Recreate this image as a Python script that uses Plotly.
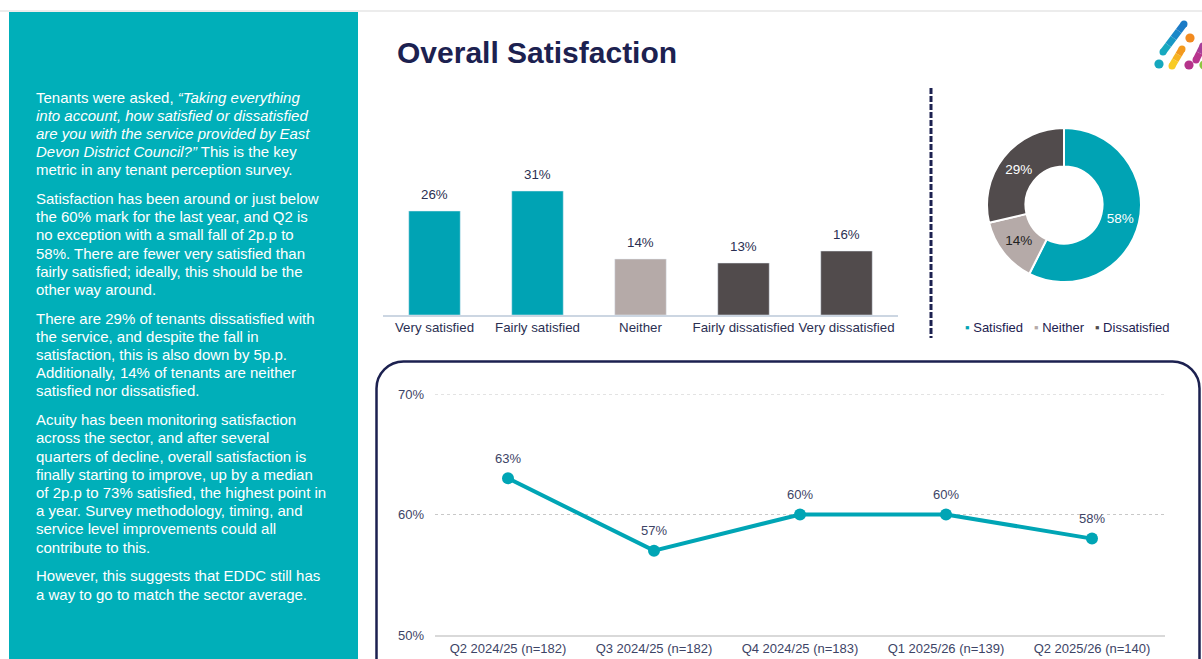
import plotly.graph_objects as go

W, H = 1202, 659
FONT = "Liberation Sans, Arial, sans-serif"
NAVY = "#1C2150"
LABEL = "#2B2F52"
TEAL_PANEL = "#00AFB9"
TEAL = "#00A3B4"
GREY = "#B5AAA8"
DARK = "#514B4C"

# ---- data ----
bar_categories = ["Very satisfied", "Fairly satisfied", "Neither", "Fairly dissatisfied", "Very dissatisfied"]
bar_values = [26, 31, 14, 13, 16]
bar_colors = [TEAL, TEAL, GREY, DARK, DARK]

donut_labels = ["Satisfied", "Neither", "Dissatisfied"]
donut_values = [58, 14, 29]
donut_colors = [TEAL, GREY, DARK]
donut_text_colors = ["white", "#222222", "white"]

trend_periods = ["Q2 2024/25 (n=182)", "Q3 2024/25 (n=182)", "Q4 2024/25 (n=183)",
                 "Q1 2025/26 (n=139)", "Q2 2025/26 (n=140)"]
trend_values = [63, 57, 60, 60, 58]
trend_ticks = [50, 60, 70]
trend_tick_labels = ["50%", "60%", "70%"]

paragraphs = [
    ["Tenants were asked, <i>“Taking everything</i>",
     "<i>into account, how satisfied or dissatisfied</i>",
     "<i>are you with the service provided by East</i>",
     "<i>Devon District Council?”</i> This is the key",
     "metric in any tenant perception survey."],
    ["Satisfaction has been around or just below",
     "the 60% mark for the last year, and Q2 is",
     "no exception with a small fall of 2p.p to",
     "58%. There are fewer very satisfied than",
     "fairly satisfied; ideally, this should be the",
     "other way around."],
    ["There are 29% of tenants dissatisfied with",
     "the service, and despite the fall in",
     "satisfaction, this is also down by 5p.p.",
     "Additionally, 14% of tenants are neither",
     "satisfied nor dissatisfied."],
    ["Acuity has been monitoring satisfaction",
     "across the sector, and after several",
     "quarters of decline, overall satisfaction is",
     "finally starting to improve, up by a median",
     "of 2p.p to 73% satisfied, the highest point in",
     "a year. Survey methodology, timing, and",
     "service level improvements could all",
     "contribute to this."],
    ["However, this suggests that EDDC still has",
     "a way to go to match the sector average."],
]


def px(x):
    return x / W


def py(y):
    return 1 - y / H


fig = go.Figure()

# ---- bar chart ----
fig.add_trace(go.Bar(
    x=bar_categories, y=bar_values, marker_color=bar_colors, width=0.5,
    xaxis="x", yaxis="y", showlegend=False, hoverinfo="skip"))

# ---- line chart ----
fig.add_trace(go.Scatter(
    x=trend_periods, y=trend_values, mode="lines+markers",
    line=dict(color="#00A5B5", width=4), marker=dict(size=12, color="#00A5B5"),
    xaxis="x2", yaxis="y2", showlegend=False, hoverinfo="skip", cliponaxis=False))

# ---- donut ----
fig.add_trace(go.Pie(
    labels=donut_labels, values=donut_values, hole=0.5, sort=False,
    direction="clockwise", rotation=0,
    marker=dict(colors=donut_colors, line=dict(color="white", width=2)),
    text=[f"{v}%" for v in donut_values], textinfo="text", textposition="inside",
    insidetextorientation="horizontal",
    textfont=dict(size=13.5, color=donut_text_colors, family=FONT),
    domain=dict(x=[px(1064 - 77), px(1064 + 77)], y=[py(282), py(128)]),
    showlegend=False, hoverinfo="skip"))

annotations = []
# bar value labels
for c, v in zip(bar_categories, bar_values):
    annotations.append(dict(x=c, y=v, xref="x", yref="y", text=f"{v}%", showarrow=False,
                            yshift=16, font=dict(size=13.3, color=LABEL, family=FONT)))
# line value labels
for c, v in zip(trend_periods, trend_values):
    annotations.append(dict(x=c, y=v, xref="x2", yref="y2", text=f"{v}%", showarrow=False,
                            yshift=20, font=dict(size=13, color="#3D4466", family=FONT)))

# title
annotations.append(dict(x=px(395), y=py(52), xref="paper", yref="paper", xanchor="left",
                        yanchor="middle", text="<b>Overall Satisfaction</b>", showarrow=False,
                        font=dict(size=30, color=NAVY, family=FONT)))

# donut legend
legend_text = "   ".join(
    f"<span style='color:{col}'>▪</span> {lab}" for lab, col in zip(donut_labels, donut_colors))
annotations.append(dict(x=px(1067), y=py(327), xref="paper", yref="paper", xanchor="center",
                        yanchor="middle", text=legend_text, showarrow=False,
                        font=dict(size=13, color=NAVY, family=FONT)))

# panel text
y = 97.0
step = 18.2
for para in paragraphs:
    for line in para:
        annotations.append(dict(x=px(34), y=py(y), xref="paper", yref="paper", xanchor="left",
                                yanchor="middle", text=line, showarrow=False,
                                font=dict(size=15, color="white", family=FONT)))
        y += step
    y += 10.5

shapes = []
# top line
shapes.append(dict(type="line", xref="paper", yref="paper", x0=0, x1=1, y0=py(11), y1=py(11),
                   line=dict(color="#D9D9D9", width=1)))
# teal panel
shapes.append(dict(type="rect", xref="paper", yref="paper", x0=px(9), x1=px(358),
                   y0=py(H + 2), y1=py(12), fillcolor=TEAL_PANEL, line=dict(width=0), layer="below"))
# dashed separator
shapes.append(dict(type="line", xref="paper", yref="paper", x0=px(931), x1=px(931),
                   y0=py(88), y1=py(338), line=dict(color=NAVY, width=3, dash="6px,2px")))

# dotted gridlines of the trend chart (above the baseline)
for t in trend_ticks[1:]:
    shapes.append(dict(type="line", xref="x2 domain", yref="y2", x0=0, x1=1, y0=t, y1=t,
                       line=dict(color="#C8C8C8", width=1, dash="dot"), layer="below"))

# rounded frame around line chart (open at bottom)
L, T, R, B, r = 376.5, 361.5, 1199.5, 700, 27
k = 0.4477


def P(x, y):
    return f"{px(x):.5f},{py(y):.5f}"


path = (f"M {P(L, B)} L {P(L, T + r)} C {P(L, T + r * k)} {P(L + r * k, T)} {P(L + r, T)} "
        f"L {P(R - r, T)} C {P(R - r * k, T)} {P(R, T + r * k)} {P(R, T + r)} L {P(R, B)}")
shapes.append(dict(type="path", xref="paper", yref="paper", path=path,
                   line=dict(color=NAVY, width=2.5)))


# logo
def seg(x0, y0, x1, y1, color, w=7):
    shapes.append(dict(type="line", xref="paper", yref="paper", x0=px(x0), y0=py(y0),
                       x1=px(x1), y1=py(y1), line=dict(color=color, width=w)))


def dot(cx, cy, rr, color):
    shapes.append(dict(type="circle", xref="paper", yref="paper", x0=px(cx - rr), x1=px(cx + rr),
                       y0=py(cy + rr), y1=py(cy - rr), fillcolor=color, line=dict(width=0)))


def bar_grad(x0, y0, x1, y1, cols, w=7):
    n = len(cols)
    for i, c in enumerate(cols):
        a, b = i / n, (i + 1) / n
        seg(x0 + (x1 - x0) * a, y0 + (y1 - y0) * a, x0 + (x1 - x0) * b, y0 + (y1 - y0) * b, c, w)
    dot(x0, y0, w / 2, cols[0])
    dot(x1, y1, w / 2, cols[-1])


bar_grad(1163, 52, 1184, 24, ["#17A9BF", "#1898C4", "#1A88C8", "#1B7BC6"])
bar_grad(1172, 66, 1182, 49, ["#F8CB25", "#F6B322", "#F39A1E"])
bar_grad(1196, 60, 1203, 46, ["#B8358E", "#A83E99"])
dot(1159, 64, 4.6, "#15A8BE")
dot(1190, 38, 4.6, "#F28A1F")
dot(1189, 65, 4.6, "#B5338A")
dot(1204, 65, 4.6, "#8DC63F")

fig.update_layout(
    width=W, height=H, margin=dict(l=0, r=0, t=0, b=0, autoexpand=False),
    paper_bgcolor="white", plot_bgcolor="rgba(0,0,0,0)",
    font=dict(family=FONT, color=LABEL),
    shapes=shapes, annotations=annotations,
    xaxis=dict(domain=[px(383), px(898)], showline=True, linecolor="#CCD6E2", linewidth=1.5,
               showgrid=False, ticks="", tickfont=dict(size=13.3, color=LABEL), fixedrange=True,
               automargin=False),
    yaxis=dict(domain=[py(315), py(175)], range=[0, 35], visible=False, fixedrange=True,
               automargin=False),
    xaxis2=dict(domain=[px(435), px(1165)], anchor="y2", showline=True, linecolor="#D9D9D9",
                linewidth=2, showgrid=False, ticks="", tickfont=dict(size=13, color="#3D4466"),
                range=[-0.5, 4.5], automargin=False),
    yaxis2=dict(domain=[py(635), py(394)], anchor="x2", range=[50, 70], tickvals=trend_ticks,
                ticktext=trend_tick_labels, showgrid=False, zeroline=False, showline=False,
                ticks="", tickfont=dict(size=13, color="#3D4466"), ticklabelstandoff=10,
                automargin=False),
)

fig.write_html(
    "out.html",
    config={"displayModeBar": False, "staticPlot": True},
    post_script=(
        "document.body.style.margin='0';document.body.style.padding='0';"
        "document.body.style.overflow='hidden';"
    ),
)
